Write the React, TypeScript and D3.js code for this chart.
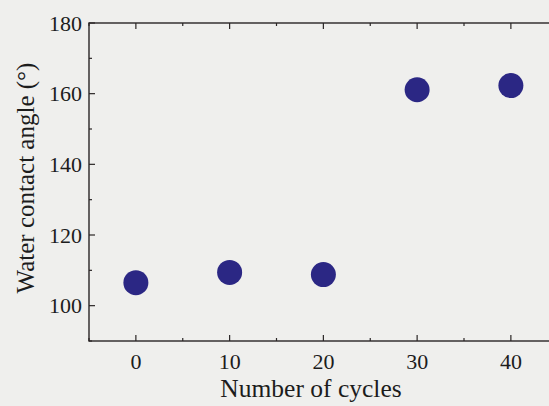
import React, { useEffect, useRef } from 'react'
import * as d3 from 'd3'

// cycles vs water contact angle
const cycles = [0, 10, 20, 30, 40]
const angles = [106.5, 109.4, 108.8, 161.1, 162.3]
const xTicks = [0, 10, 20, 30, 40]
const yTicks = [100, 120, 140, 160, 180]

function App () {
  const ref = useRef<SVGSVGElement>(null)

  useEffect(() => {
    const svg = d3.select(ref.current)
    svg.selectAll('*').remove()

    const W = 549
    const H = 406
    const margin = { top: 23, left: 89, bottom: 341 }

    svg.append('rect').attr('width', W).attr('height', H).attr('fill', '#efefed')

    const x = d3.scaleLinear().domain([-5, 45]).range([margin.left, margin.left + 468.75])
    const y = d3.scaleLinear().domain([90, 180]).range([margin.bottom, margin.top])

    const ink = '#2a2626'
    const g = svg.append('g')

    // frame
    g.append('rect')
      .attr('x', x(-5)).attr('y', y(180))
      .attr('width', x(45) - x(-5)).attr('height', y(90) - y(180))
      .attr('fill', 'none').attr('stroke', ink).attr('stroke-width', 1.4)

    // ticks on all four sides, pointing in
    d3.range(-5, 46, 5).forEach(v => {
      const len = v % 10 === 0 ? 6 : 3
      g.append('line').attr('x1', x(v)).attr('x2', x(v))
        .attr('y1', y(90)).attr('y2', y(90) - len).attr('stroke', ink).attr('stroke-width', 1.2)
      g.append('line').attr('x1', x(v)).attr('x2', x(v))
        .attr('y1', y(180)).attr('y2', y(180) + len).attr('stroke', ink).attr('stroke-width', 1.2)
    })
    d3.range(90, 181, 10).forEach(v => {
      const len = v % 20 === 0 ? 6 : 3
      g.append('line').attr('y1', y(v)).attr('y2', y(v))
        .attr('x1', x(-5)).attr('x2', x(-5) + len).attr('stroke', ink).attr('stroke-width', 1.2)
      g.append('line').attr('y1', y(v)).attr('y2', y(v))
        .attr('x1', x(45)).attr('x2', x(45) - len).attr('stroke', ink).attr('stroke-width', 1.2)
    })

    const font = '"Liberation Serif", "Times New Roman", serif'

    g.selectAll('text.xt').data(xTicks).enter().append('text')
      .attr('class', 'xt')
      .attr('x', d => x(d)).attr('y', 369)
      .attr('text-anchor', 'middle')
      .attr('font-family', font).attr('font-size', 22).attr('fill', '#1c1c1c')
      .text(d => d)

    g.selectAll('text.yt').data(yTicks).enter().append('text')
      .attr('class', 'yt')
      .attr('x', 82).attr('y', d => y(d) + 7.5)
      .attr('text-anchor', 'end')
      .attr('font-family', font).attr('font-size', 22).attr('fill', '#1c1c1c')
      .text(d => d)

    // dots
    g.selectAll('circle').data(cycles).enter().append('circle')
      .attr('cx', d => x(d))
      .attr('cy', (d, i) => y(angles[i]))
      .attr('r', 12.5)
      .attr('fill', '#2b2784')

    svg.append('text')
      .attr('x', 311).attr('y', 397)
      .attr('text-anchor', 'middle')
      .attr('font-family', font).attr('font-size', 25.5).attr('fill', '#1c1c1c')
      .text('Number of cycles')

    svg.append('g')
      .attr('transform', 'translate(34,178)')
      .append('text')
      .attr('transform', 'rotate(-90)')
      .attr('text-anchor', 'middle')
      .attr('font-family', font).attr('font-size', 25).attr('fill', '#1c1c1c')
      .text('Water contact angle (°)')
  }, [])

  return <svg ref={ref} width={549} height={406} style={{ display: 'block', position: 'absolute', left: 0, top: 0 }} />
}

export default App
